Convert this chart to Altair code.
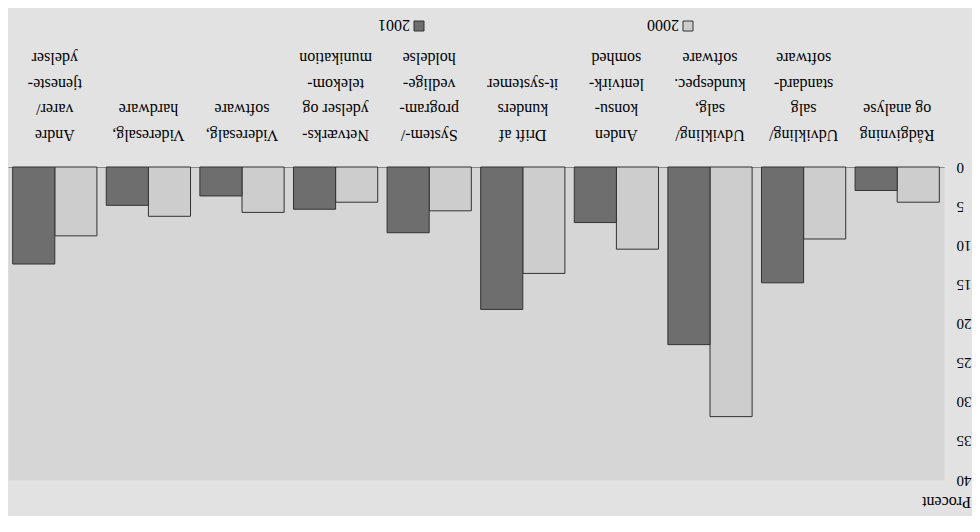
import altair as alt
import pandas as pd

# Categories (original order, "|" marks line breaks in the labels)
categories = [
    "Rådgivning|og analyse",
    "Udvikling/|salg|standard-|software",
    "Udvikling/|salg,|kundespec.|software",
    "Anden|konsu-|lentvirk-|somhed",
    "Drift af|kunders|it-systemer",
    "System-/|program-|vedlige-|holdelse",
    "Netværks-|ydelser og|telekom-|munikation",
    "Videresalg,|software",
    "Videresalg,|hardware",
    "Andre|varer/|tjeneste-|ydelser",
]
series = ["2000", "2001"]
values_2000 = [4.5, 9.2, 31.9, 10.5, 13.6, 5.6, 4.5, 5.8, 6.3, 8.8]
values_2001 = [3.0, 14.8, 22.7, 7.1, 18.2, 8.4, 5.4, 3.7, 4.9, 12.4]
y_ticks = [0, 5, 10, 15, 20, 25, 30, 35, 40]
y_title = "Procent"

rows = []
for c, v in zip(categories, values_2000):
    rows.append({"kategori": c, "aar": "2000", "procent": v})
for c, v in zip(categories, values_2001):
    rows.append({"kategori": c, "aar": "2001", "procent": v})
df = pd.DataFrame(rows)
legend_df = pd.DataFrame({"aar": series})

FONT = "Liberation Serif"
color_scale = alt.Scale(domain=series, range=["#cdcdcd", "#6e6e6e"])

bars = alt.Chart(df).mark_bar(stroke="#333333", strokeWidth=1).encode(
    x=alt.X(
        "kategori:N",
        sort=list(reversed(categories)),
        scale=alt.Scale(paddingInner=0.1, paddingOuter=0.05),
        axis=alt.Axis(
            orient="top",
            title=None,
            labelAngle=180,
            labelExpr="split(datum.label, '|')",
            labelFont=FONT,
            labelFontSize=16,
            labelLineHeight=25.5,
            labelPadding=25,
            labelColor="black",
            labelLimit=0,
            labelOverlap=False,
            ticks=False,
            tickSize=0,
            domainColor="#888888",
            domainWidth=1,
        ),
    ),
    xOffset=alt.XOffset("aar:N", sort=["2001", "2000"]),
    y=alt.Y(
        "procent:Q",
        scale=alt.Scale(domain=[0, 40], reverse=True, nice=False),
        axis=alt.Axis(
            orient="right",
            values=y_ticks,
            labelAngle=180,
            labelAlign="right",
            labelBaseline="middle",
            labelFont=FONT,
            labelFontSize=15,
            labelColor="black",
            labelPadding=12,
            labelLimit=0,
            ticks=False,
            tickSize=0,
            domain=False,
            grid=False,
            title=y_title,
            titleAngle=180,
            titleX=2,
            titleY=334,
            titleAlign="center",
            titleBaseline="middle",
            titleFont=FONT,
            titleFontSize=16,
            titleFontWeight="normal",
            titleColor="black",
        ),
    ),
    color=alt.Color("aar:N", scale=color_scale, legend=None),
)

def legend_item(name, sx, tx, yy):
    base = alt.Chart(legend_df).transform_filter(alt.datum.aar == name)
    sq = base.mark_square(size=100, stroke="#333333", strokeWidth=1, opacity=1).encode(
        x=alt.value(sx), y=alt.value(yy),
        color=alt.Color("aar:N", scale=color_scale, legend=None),
    )
    tx_mark = base.mark_text(
        angle=180, align="left", baseline="middle", font=FONT, fontSize=16, color="black"
    ).encode(x=alt.value(tx), y=alt.value(yy - 1), text="aar:N")
    return sq + tx_mark

chart = alt.layer(
    bars,
    legend_item("2001", 411, 402, -141),
    legend_item("2000", 680, 671, -141),
).properties(
    width=936,
    height=313,
    autosize=alt.AutoSizeParams(type="none"),
    padding={"left": 0, "top": 159, "right": 28, "bottom": 36},
    background="#e2e2e2",
).configure_view(
    fill="#d6d6d6",
    stroke="transparent",
)

chart.save("out.html", embed_options={"renderer": "svg", "actions": False})
